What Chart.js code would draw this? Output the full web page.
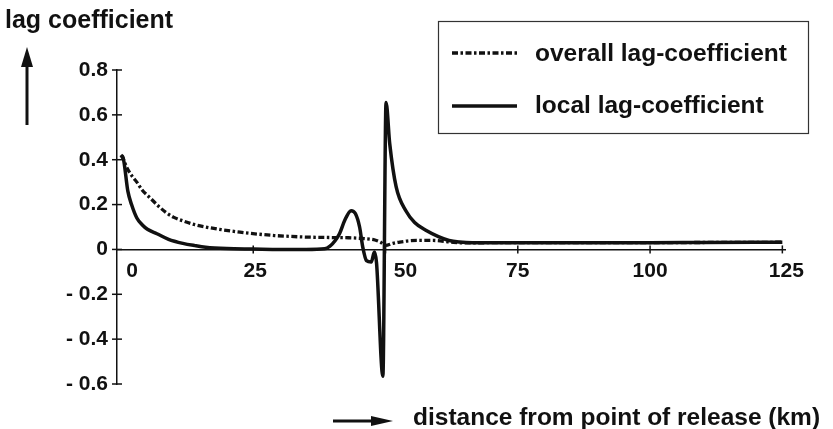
<!DOCTYPE html>
<html>
<head>
<meta charset="utf-8">
<script src="https://cdn.jsdelivr.net/npm/chart.js@4.4.1/dist/chart.umd.min.js"></script>
<style>
  html, body { margin: 0; padding: 0; background: #fff; }
  #wrap { position: relative; width: 833px; height: 429px; }
</style>
</head>
<body>
<div id="wrap"><canvas id="lagChart"></canvas></div>
<script>
// ---- overall lag coefficient (dash-dot) ----
const overallDist = [0, 0.5, 1, 2, 3, 4, 5.5, 7, 8.5, 10, 12, 14, 16, 19, 22.5, 26, 29, 32, 35, 40, 43, 46, 48, 49, 50, 51.4, 52.7, 55.9, 59, 62.2, 65, 70, 80, 90, 100, 110, 125];
const overallLag  = [0.42, 0.40, 0.37, 0.33, 0.30, 0.265, 0.23, 0.195, 0.165, 0.143, 0.125, 0.11, 0.10, 0.088, 0.077, 0.068, 0.062, 0.058, 0.055, 0.053, 0.052, 0.048, 0.042, 0.033, 0.018, 0.027, 0.033, 0.04, 0.04, 0.033, 0.029, 0.03, 0.03, 0.03, 0.03, 0.031, 0.032];

// ---- local lag coefficient (solid) ----
const localDist = [0, 0.4, 1.3, 2, 3, 4, 5, 6.8, 9, 11.7, 14, 16, 20, 25, 30, 35, 38.5, 39.5, 40.5, 41.3, 42.3, 43.5, 44.3, 45.1, 45.7, 46.4, 47.3, 47.9, 48.3, 49.5, 50.1, 50.8, 52, 53.9, 55.5, 57.7, 60, 62, 64, 66.4, 70, 80, 90, 100, 110, 125];
const localLag  = [0.42, 0.41, 0.26, 0.2, 0.14, 0.11, 0.09, 0.07, 0.045, 0.027, 0.017, 0.01, 0.004, 0.002, 0, 0, 0.003, 0.015, 0.04, 0.07, 0.13, 0.173, 0.16, 0.1, 0.01, -0.05, -0.056, -0.012, -0.06, -0.565, 0.655, 0.47, 0.28, 0.17, 0.12, 0.084, 0.057, 0.04, 0.033, 0.03, 0.03, 0.03, 0.03, 0.03, 0.031, 0.032];

const xTicks = [0, 25, 50, 75, 100, 125];
const xTickLabels = ['0', '25', '50', '75', '100', '125'];
const yTicks = [-0.6, -0.4, -0.2, 0, 0.2, 0.4, 0.6, 0.8];
const yTickLabels = ['- 0.6', '- 0.4', '- 0.2', '0', '0.2', '0.4', '0.6', '0.8'];

const seriesNames = ['overall lag-coefficient', 'local lag-coefficient'];
const yTitle = 'lag coefficient';
const xTitle = 'distance from point of release (km)';

const FONT = '"Liberation Sans", Arial, Helvetica, sans-serif';
const INK = '#111';
const DASH_DOT = [6, 2.5, 2.5, 2.5];

function toPoints(xs, ys) {
  return xs.map((x, i) => ({ x: x, y: ys[i] }));
}

function line(ctx, x1, y1, x2, y2) {
  ctx.beginPath();
  ctx.moveTo(x1, y1);
  ctx.lineTo(x2, y2);
  ctx.stroke();
}

// filled arrow head pointing from (x1,y1) to (x2,y2)
function arrow(ctx, x1, y1, x2, y2, headLen, headHalf, width) {
  const a = Math.atan2(y2 - y1, x2 - x1);
  const bx = x2 - Math.cos(a) * headLen, by = y2 - Math.sin(a) * headLen;
  ctx.lineWidth = width;
  line(ctx, x1, y1, bx, by);
  ctx.beginPath();
  ctx.moveTo(x2, y2);
  ctx.lineTo(bx + Math.sin(a) * headHalf, by - Math.cos(a) * headHalf);
  ctx.lineTo(bx - Math.sin(a) * headHalf, by + Math.cos(a) * headHalf);
  ctx.closePath();
  ctx.fill();
}

// cross ticks, x labels, titles, arrows and the boxed legend
const decorations = {
  id: 'decorations',
  afterDraw(chart) {
    const ctx = chart.ctx;
    const xs = chart.scales.x, ys = chart.scales.y;
    const axisX = chart.chartArea.left;
    const y0 = ys.getPixelForValue(0);

    ctx.save();
    ctx.strokeStyle = INK;
    ctx.fillStyle = INK;
    ctx.lineWidth = 1.5;

    yTicks.forEach(v => {
      const py = ys.getPixelForValue(v);
      line(ctx, axisX - 5, py, axisX + 5, py);
    });
    xTicks.forEach(v => {
      if (v === 0) return;
      const px = xs.getPixelForValue(v);
      line(ctx, px, y0 - 4, px, y0 + 4);
    });

    // 0 and 50 are pushed right, clear of the axis and the spike
    const nudge = { 0: 11, 25: 2, 50: 20, 125: 4 };
    ctx.font = 'bold 21px ' + FONT;
    ctx.textAlign = 'center';
    ctx.textBaseline = 'middle';
    xTicks.forEach((v, i) => {
      ctx.fillText(xTickLabels[i], xs.getPixelForValue(v) + (nudge[v] || 0), y0 + 22);
    });

    // axis titles with arrows
    ctx.font = 'bold 25px ' + FONT;
    ctx.textAlign = 'left';
    ctx.textBaseline = 'alphabetic';
    ctx.fillText(yTitle, 5, 28);
    arrow(ctx, 27, 125, 27, 47, 20, 6, 3);

    ctx.font = 'bold 24.5px ' + FONT;
    ctx.fillText(xTitle, 413, 425);
    arrow(ctx, 333, 421, 393, 421, 22, 5, 3);

    // legend
    ctx.lineWidth = 1.2;
    ctx.strokeStyle = '#333';
    ctx.strokeRect(438.5, 21.5, 370, 112);
    ctx.strokeStyle = INK;
    ctx.lineWidth = 3.3;
    ctx.setLineDash(DASH_DOT);
    line(ctx, 452, 53, 517, 53);
    ctx.setLineDash([]);
    ctx.lineWidth = 3.5;
    line(ctx, 452, 106, 517, 106);
    ctx.font = 'bold 24.5px ' + FONT;
    ctx.fillText(seriesNames[0], 535, 61);
    ctx.fillText(seriesNames[1], 535, 113);

    ctx.restore();
  }
};

new Chart(document.getElementById('lagChart'), {
  type: 'line',
  data: {
    datasets: [
      {
        label: seriesNames[0],
        data: toPoints(overallDist, overallLag),
        borderColor: INK,
        borderWidth: 3.3,
        borderDash: DASH_DOT,
        pointRadius: 0,
        cubicInterpolationMode: 'monotone',
        fill: false
      },
      {
        label: seriesNames[1],
        data: toPoints(localDist, localLag),
        borderColor: INK,
        borderWidth: 3.5,
        pointRadius: 0,
        cubicInterpolationMode: 'monotone',
        fill: false
      }
    ]
  },
  options: {
    responsive: true,
    maintainAspectRatio: false,
    animation: false,
    layout: { padding: { top: 70, right: 48, bottom: 45, left: 0 } },
    plugins: {
      legend: { display: false },
      tooltip: { enabled: false }
    },
    scales: {
      x: {
        type: 'linear',
        position: { y: 0 },
        min: -0.75,
        max: 125.5,
        ticks: { display: false },
        grid: { display: false },
        border: { display: true, color: INK, width: 1.5 }
      },
      y: {
        position: 'left',
        min: -0.6,
        max: 0.8,
        afterBuildTicks: scale => {
          scale.ticks = yTicks.map(v => ({ value: v }));
        },
        afterFit: scale => {
          scale.width = 117;
          scale.paddingTop = 0;
          scale.paddingBottom = 0;
        },
        ticks: {
          callback: (value, index) => yTickLabels[index],
          color: INK,
          padding: 9,
          font: { family: FONT, size: 21, weight: 'bold' }
        },
        grid: { display: false, drawTicks: false },
        border: { display: true, color: INK, width: 1.5 }
      }
    }
  },
  plugins: [decorations]
});
</script>
</body>
</html>
